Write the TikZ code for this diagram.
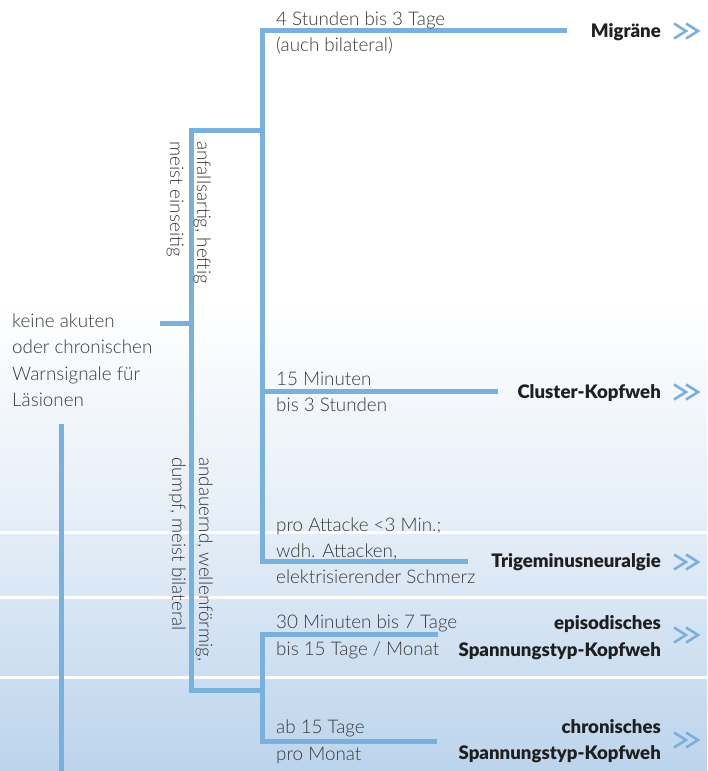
\documentclass[tikz,border=0pt]{standalone}
\usepackage{fontspec}
\setmainfont{Lato}[UprightFont=* Light, BoldFont=* Black]
\definecolor{lblue}{HTML}{7AB0DC}
\definecolor{txt}{HTML}{3A3A3A}
\definecolor{bgmid}{HTML}{E4EDF7}
\definecolor{bgbot}{HTML}{BCD4EC}
\begin{document}
\begin{tikzpicture}[x=1pt,y=-1pt,
  branch/.style={draw=lblue,line width=5pt,line join=miter},
  lbl/.style={font=\fontsize{18.8}{22}\selectfont,text=txt,inner sep=0pt,anchor=base west},
  res/.style={font=\fontsize{18.6}{22}\selectfont\bfseries,text=black!88,inner sep=0pt,anchor=base east},
  vlbl/.style={lbl,rotate=-90},
  chev/.style={draw=lblue,line width=2.6pt,line join=miter},
  dchev/.pic={\draw[chev] (-13,-7.5) -- (-1,0) -- (-13,7.5);
              \draw[chev] (-1,-7.5) -- (11,0) -- (-1,7.5);}]
\useasboundingbox (0,0) rectangle (707,771);
% background
\fill[white] (0,0) rectangle (707,771);
\shade[top color=white,bottom color=bgmid] (0,300) rectangle (707,531);
\shade[top color=bgmid,bottom color=bgbot] (0,531) rectangle (707,771);
\fill[white] (0,530.5) rectangle (707,533.5);
\fill[white] (0,595.5) rectangle (707,598.5);
\fill[white] (0,675.5) rectangle (707,678.5);

% junction coordinates
\coordinate (stub) at (160,323);
\coordinate (tmid) at (191.5,323);
\coordinate (ttop) at (191.5,130);
\coordinate (tbot) at (191.5,690);
\coordinate (atop) at (262.5,130);
\coordinate (abot) at (262.5,690);
\coordinate (v1top) at (262.5,30);
\coordinate (v1bot) at (262.5,561);
\coordinate (v1mid) at (262.5,391);
\coordinate (migEnd) at (567,30);
\coordinate (cluEnd) at (498,391);
\coordinate (triEnd) at (468,561);
\coordinate (v2top) at (262.5,634);
\coordinate (v2bot) at (262.5,741);
\coordinate (epiEnd) at (438,634);
\coordinate (chrEnd) at (437,741);
\coordinate (lvTop) at (61,424);
\coordinate (lvBot) at (61,771);

% connectors
\draw[branch] (stub) -- (tmid);
\draw[branch] (atop) -- (ttop) -- (tbot) -- (abot);
\draw[branch] (migEnd) -- (v1top) -- (v1bot) -- (triEnd);
\draw[branch] (v1mid) -- (cluEnd);
\draw[branch] (epiEnd) -- (v2top) -- (v2bot) -- (chrEnd);
\draw[branch] (lvTop) -- (lvBot);

% left text
\node[lbl] (k1) at (12,327) {keine akuten};
\node[lbl] (k2) at (12,353.5) {oder chronischen};
\node[lbl] (k3) at (12,380) {Warnsignale für};
\node[lbl] (k4) at (12,406.5) {Läsionen};

% rotated labels
\node[vlbl] (r1) at (197,141) {anfallsartig, heftig};
\node[vlbl] (r2) at (170,141) {meist einseitig};
\node[vlbl] (r3) at (199,457) {andauernd, wellenförmig,};
\node[vlbl] (r4) at (172,457) {dumpf, meist bilateral};

% branch texts
\node[lbl] (m1) at (276,25) {4 Stunden bis 3 Tage};
\node[lbl] (m2) at (276,51) {(auch bilateral)};
\node[lbl] (c1) at (276,385) {15 Minuten};
\node[lbl] (c2) at (276,411.5) {bis 3 Stunden};
\node[lbl] (t1) at (276,531) {pro Attacke <3 Min.;};
\node[lbl] (t2) at (276,557) {wdh. Attacken,};
\node[lbl] (t3) at (276,583.5) {elektrisierender Schmerz};
\node[lbl] (e1) at (276,628.5) {30 Minuten bis 7 Tage};
\node[lbl] (e2) at (276,655.5) {bis 15 Tage / Monat};
\node[lbl] (h1) at (276,733.5) {ab 15 Tage};
\node[lbl] (h2) at (276,760) {pro Monat};

% results
\node[res] (mig) at (661,37) {Migräne};
\node[res] (clu) at (661,398) {Cluster-Kopfweh};
\node[res] (tri) at (661,567.5) {Trigeminusneuralgie};
\node[res] (epi1) at (661,629.5) {episodisches};
\node[res] (epi2) at (661,656) {Spannungstyp-Kopfweh};
\node[res] (chr1) at (661,733.5) {chronisches};
\node[res] (chr2) at (661,759) {Spannungstyp-Kopfweh};

% double chevrons
\pic at (687,31) {dchev};
\pic at (687,392) {dchev};
\pic at (687,562) {dchev};
\pic at (687,635) {dchev};
\pic at (687,740) {dchev};
\end{tikzpicture}
\end{document}
